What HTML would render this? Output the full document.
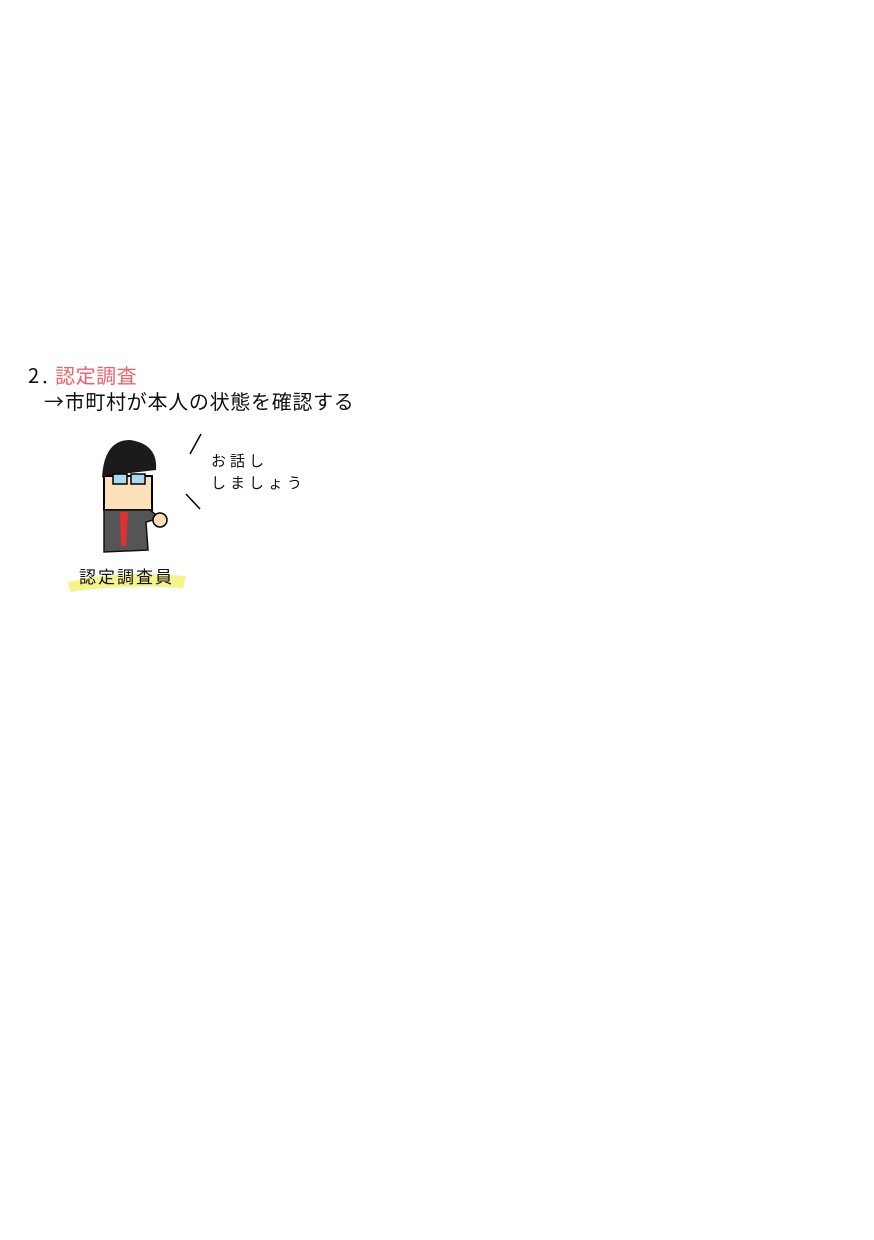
<!DOCTYPE html>
<html><head><meta charset="utf-8"><style>
body{margin:0;width:874px;height:1240px;background:#fff;position:relative;overflow:hidden;font-family:"Noto Sans CJK JP",sans-serif;}
.t{position:absolute;white-space:nowrap;color:#111;}
</style></head><body>
<div class="t" style="left:28px;top:362px;font-size:20px;line-height:26px;"><span style="letter-spacing:3px">2.</span>&nbsp;<span style="color:#f0606a;letter-spacing:0.5px">認定調査</span></div>
<div class="t" style="left:44px;top:388px;font-size:20px;line-height:26px;letter-spacing:0.7px;">→市町村が本人の状態を確認する</div>
<svg style="position:absolute;left:0;top:0" width="874" height="1240">
<path d="M68 582 Q120 570 186 576 L183 588 Q120 584 70 592 Z" fill="#f4f48a"/>
<line x1="201" y1="434" x2="190" y2="454" stroke="#000" stroke-width="1.5"/>
<line x1="186" y1="494" x2="200" y2="509" stroke="#000" stroke-width="1.5"/>
<rect x="104" y="476" width="48" height="34" fill="#fbe0b8" stroke="#000" stroke-width="2"/>
<path d="M102 478 Q104 440 130 440 Q158 444 156 470 L104 476Z" fill="#1b1b1b"/>
<rect x="113" y="474" width="14" height="10" fill="#a9d8ef" stroke="#000" stroke-width="1.5"/>
<rect x="131" y="474" width="14" height="10" fill="#a9d8ef" stroke="#000" stroke-width="1.5"/>
<path d="M104 510 L150 510 L160 518 L146 522 L148 550 L104 552 Z" fill="#555" stroke="#111" stroke-width="1.5"/>
<path d="M120 512 L128 512 L126 546 L121 546 Z" fill="#e03030"/>
<circle cx="160" cy="520" r="7" fill="#fbe0b8" stroke="#000" stroke-width="1.5"/>
</svg>
<div class="t" style="left:211px;top:450px;font-size:15px;line-height:22px;letter-spacing:4px;">お話し<br>しましょう</div>
<div class="t" style="left:79px;top:565px;font-size:17px;line-height:22px;letter-spacing:2px;">認定調査員</div>
</body></html>
